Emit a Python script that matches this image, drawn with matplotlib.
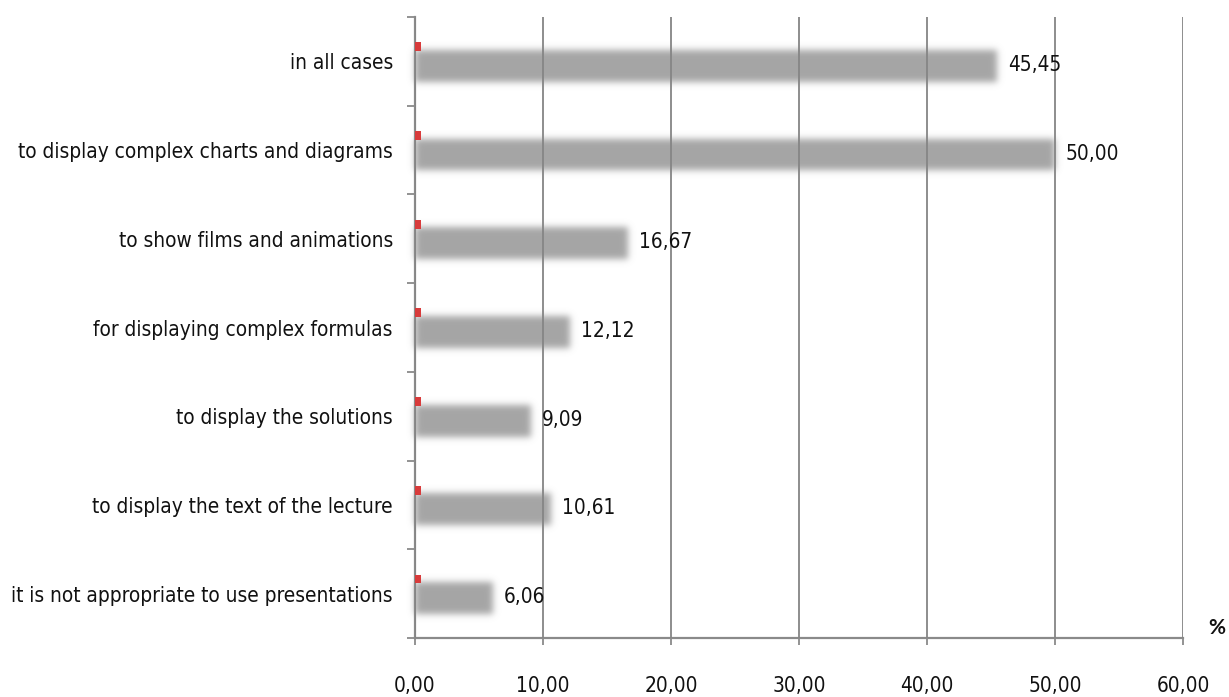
import numpy as np
import matplotlib
matplotlib.use("Agg")
import matplotlib.pyplot as plt
import matplotlib.font_manager as fm
from matplotlib.colors import to_rgb
from matplotlib.ticker import FixedLocator

# Pick a narrow sans face if one is installed, otherwise a Calibri-like one.
_narrow = None
for f in fm.fontManager.ttflist:
    nm = f.name.lower()
    if f.weight in (400, "normal", "regular") and f.style == "normal" and (
            "narrow" in nm or "condensed" in nm
            or str(f.stretch) in ("condensed", "semi-condensed", "500", "700")):
        _narrow = f
        break
if _narrow is not None:
    FONT = fm.FontProperties(fname=_narrow.fname)
else:
    FONT = fm.FontProperties(family="Lato")

categories = [
    "in all cases",
    "to display complex charts and diagrams",
    "to show films and animations",
    "for displaying complex formulas",
    "to display the solutions",
    "to display the text of the lecture",
    "it is not appropriate to use presentations",
]
values = [45.45, 50.00, 16.67, 12.12, 9.09, 10.61, 6.06]
marker_values = [0.47] * len(categories)
x_ticks = [0, 10, 20, 30, 40, 50, 60]

BAR_COLOR = "#a5a5a5"


def soft_edges(sigma, color):
    """agg_filter that feathers an artist's outline into the background."""
    rgb = np.array(to_rgb(color))

    def _filter(im, dpi):
        s = sigma * dpi / 100.0
        pad = int(np.ceil(3 * s)) + 1
        a = np.pad(im[..., 3], [(pad, pad), (pad, pad)], "constant")
        r = np.arange(-pad, pad + 1)
        k = np.exp(-0.5 * (r / s) ** 2)
        k /= k.sum()
        tmp = np.zeros_like(a)
        for i, w in zip(r, k):
            tmp += w * np.roll(a, i, axis=0)
        alpha = np.zeros_like(a)
        for i, w in zip(r, k):
            alpha += w * np.roll(tmp, i, axis=1)
        out = np.empty(a.shape + (4,), dtype=im.dtype)
        out[..., :3] = rgb
        out[..., 3] = np.clip(alpha, 0, 1)
        return out, -pad, -pad
    return _filter


fig = plt.figure(figsize=(12.29, 6.97), dpi=100)
ax = fig.add_axes([415 / 1229, 1 - 638 / 697, 768 / 1229, 621 / 697])

# size the text so the longest category label spans ~381 px
renderer = fig.canvas.get_renderer()
probe = fig.text(0, 0, categories[-1], fontproperties=FONT, fontsize=17)
w = probe.get_window_extent(renderer).width
probe.remove()
fs = min(18.0, 17 * 381.0 / w)
FONT.set_size(fs)

n = len(categories)
pos = np.arange(n)[::-1]  # first category on top

grey_bars = ax.barh(pos - 0.05, values, height=0.36, color=BAR_COLOR,
                    zorder=1)
for p in grey_bars:
    p.set_agg_filter(soft_edges(3.4, BAR_COLOR))

ax.barh(pos + 0.165, marker_values, height=0.1, left=0.03,
        color="#d83b3b", zorder=4)

for y, v in zip(pos, values):
    ax.text(v + 0.85, y - 0.04, f"{v:.2f}".replace(".", ","),
            va="center", ha="left", fontproperties=FONT, color="#111111",
            zorder=5)

ax.set_xlim(0, 60)
ax.set_ylim(-0.5, n - 0.5)

ax.xaxis.set_major_locator(FixedLocator(x_ticks))
ax.set_xticklabels([f"{t:.2f}".replace(".", ",") for t in x_ticks],
                   fontproperties=FONT)
ax.set_yticks(pos)
ax.set_yticklabels(categories, fontproperties=FONT)
ax.yaxis.set_minor_locator(FixedLocator(np.arange(-0.5, n, 1.0)))

# vertical gridlines sit on top of the bars
ax.set_axisbelow(False)
ax.grid(axis="x", color="#858585", linewidth=1.3)

for side in ("top", "right"):
    ax.spines[side].set_visible(False)
for side in ("left", "bottom"):
    ax.spines[side].set_color("#8a8a8a")
    ax.spines[side].set_linewidth(1.6)

ax.tick_params(axis="x", which="major", length=5, width=1.3, color="#8a8a8a",
               pad=22, labelcolor="#111111")
ax.tick_params(axis="y", which="major", length=0, pad=16,
               labelcolor="#111111")
ax.tick_params(axis="y", which="minor", length=6, width=1.3,
               color="#8a8a8a")

fig.text(1217 / 1229, 1 - 628 / 697, "%", family=["Lato", "DejaVu Sans"],
         fontsize=15, fontweight="bold", ha="center", va="center",
         color="#111111")

fig.savefig("out.png", dpi=100)
